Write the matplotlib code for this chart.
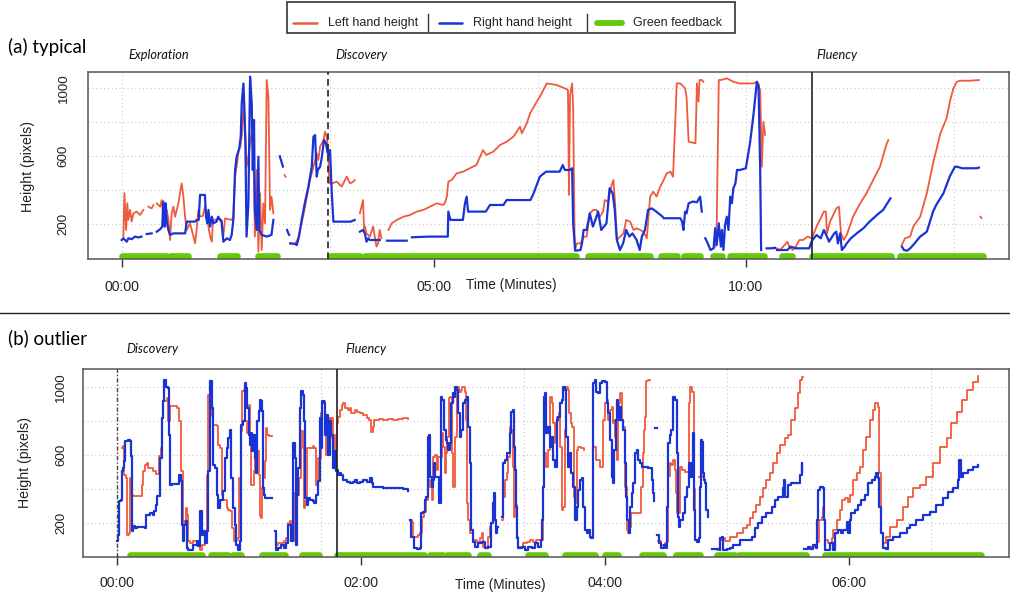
import numpy as np
import matplotlib
matplotlib.use("Agg")
import matplotlib.pyplot as plt
from matplotlib.lines import Line2D
from matplotlib.patches import Rectangle

# ---------------- data (time in seconds, height in pixels; None = gap) ----------------
a_left = [(1.6,128),(2.6,383),(4.2,167),(5.4,324),(6.4,226),(8,285),(9.6,216),(11.2,265),(14.4,275),(17.6,255),(20.8,285),None,
          (25.6,304),(28.8,294),(30.4,314),None,(33.7,324),(36.9,304),(38.5,343),(40,245),(41.7,187),(43.3,285),(44.9,226),
          (46.5,108),(48,265),(49.7,304),(51.3,245),(54.5,324),(56,383),(57.7,441),(59.3,363),(60.9,245),(62.5,167),(65.7,206),
          (69,128),(70.5,89),(72,167),(73.7,285),(75.3,245),(78,250),(80,304),(81.6,265),(83.4,187),(85,128),(86.7,98),(87.7,226),
          (89.7,226),(93,235),(96,226),(97.7,128),(99.3,235),(105.7,226),(107.3,245),(109,480),(110.9,559),(112.5,637),(114,657),
          (115.7,735),(117.3,912),(119,716),(120,539),(121.8,600),(123.4,677),(125,735),(126.6,637),(128,128),(129.8,520),(131.4,40),
          (133,383),(134.6,49),(136.2,324),(137.8,206),(139.4,1049),(141,951),(142.6,285),(144,363),(145.8,265),None,
          (156.5,490),(157.5,480),None,
          (162,88),(166.6,85),(169.6,118),(171.5,167),(175,265),(178,363),(181,461),(183.6,520),(185.9,578),(187.5,618),(189,578),
          (190.7,657),(193.9,696),(195.5,745),(197,716),(198.6,637),(199.5,441),(200.6,451),(202.2,441),(206.7,451),(211.5,422),
          (216.3,481),(219.5,441),(222.7,451),(224,461),None,
          (229,265),(232,343),(233,167),(233.7,187),(235.3,147),(238.5,128),(241.7,187),(244.9,69),(246.5,89),(248,167),(249.7,118),None,
          (256.4,167),(259.6,206),(264.4,226),(270.8,245),(277.2,255),(283.6,275),(290,285),(296.4,304),(302.8,324),(309,314),
          (310.6,324),(312.6,363),(314,451),(317.2,461),(322,500),(328,510),(334.6,530),(341,549),(347.3,637),(350.5,608),
          (357.3,628),(363.7,667),(370,686),(376.6,716),(383,775),(384.6,735),(389.4,794),(392.6,853),(399,922),(402,951),
          (408.6,1029),(418,1020),(426,1000),(429,990),(430,373),(431,960),(433,1029),(434,880),(435.5,49),(437.6,88),(441,88),
          (444.2,128),(447,128),(450,265),(453.3,285),(456.5,285),(459.7,245),(462.8,275),(464.4,343),(467.6,333),(471,432),
          (472.7,461),(474.3,324),(476,108),(479.2,128),(482.4,147),(485,226),(488.8,216),(492,167),(495.2,177),(498.4,167),
          (501.6,157),(504.8,118),(508,363),(511,392),(514.2,363),(517,412),(521,461),(524,500),(527.6,510),(530,480),(533.6,1029),
          (537,1029),(541.6,1000),(543,951),(545,686),(551.6,677),(553,1029),(554.5,922),(555.5,1049),(557.7,1049),(559.2,1039),None,
          (570.5,69),(572,196),(574,1049),(576,1049),(581.7,1059),(588,1039),(594,1029),(600,1029),(607.5,1029),(610.6,1039),
          (613.8,990),(615.4,539),(616.9,804),(618.6,726),None,
          (625,59),(630,59),(633,49),(640,98),(641.7,69),(645,49),(648,69),(651.5,108),(655,108),(659.4,128),(663.5,118),(668,187),
          (672,236),(675,275),(677,275),(678,147),(681,216),(684,255),(687,294),(689.5,304),(691.5,147),(694,108),(697,137),
          (703,245),(710,324),(716,383),(722.4,461),(729,539),(735,667),(737,696),None,
          (750,79),(753,118),(758,128),(761,187),(767.6,245),(774,383),(777,471),(780,559),(787,735),(793,824),(796.5,931),
          (799.6,1000),(802.8,1039),(806,1045),(815.6,1045),(824,1049),None,(825.5,245),(826.5,237)]

a_right = [(0,108),(1.6,118),(3.2,108),(4.8,98),(6.4,118),(9.6,113),(12.8,128),(16,123),(19,128),None,(24,143),(28.8,147),None,
           (33.7,157),(36.9,171),(39,187),(40,334),(41.3,187),(42.3,324),(43.3,216),(44.9,167),(46.5,138),(49.7,147),(61,147),
           (62.5,216),(70.5,216),(72,226),(74,226),(75.3,373),(80,373),(81,245),(82.3,206),(83.4,285),(85,187),(86.7,245),(88,206),
           (91.2,216),(92.8,245),(94.5,226),(96,216),(97.7,98),(101,118),(104,108),(105.7,138),(107.3,226),(109,520),(110.5,598),
           (113,647),(114.4,716),(115.4,912),(117,1029),(118,873),(119,637),(120,128),(121.8,324),(123.4,1069),(125,912),(126,520),
           (127.2,814),(128,285),(129.8,167),(131.4,598),(132.3,167),(134.6,138),(139.4,128),(144,138),(145.8,226),None,
           (152,600),(153.5,570),(155,540),None,(159,167),(160,150),(161,138),None,
           (162,88),(166.6,85),(168.3,78),(169.6,108),(170.4,128),(173,226),(176,324),(179.5,422),(182.7,539),(184.3,716),
           (185.9,725),(187.5,481),(188.5,520),(190.7,539),(192.2,588),(194.5,696),(196.4,677),(198,618),(199.5,608),(200.3,637),
           (201.8,402),(203.5,216),(205,216),(220,216),(224,226),None,
           (229,157),(232,167),(233.7,147),(235.3,98),(237,118),(238.5,108),(248,108),None,(255,104),(274,104),None,
           (279,124),(296,128),(312,128),(313.5,128),(314,275),(316,226),(328,226),(330,324),(331.6,363),(333,275),(335,275),
           (350,275),(354,314),(367,314),(370,343),(393,343),(396,383),(402,481),(408,510),(421,510),(424,549),(426,520),(431,520),
           (433,530),(434,206),(436,45),(441,49),(442.5,88),(444,167),(447,167),(450,265),(453,187),(456.4,245),(458,275),(461,167),
           (466,206),(469,412),(472,383),(474,285),(476,108),(479,49),(482,88),(485,167),(488,128),(491,147),(495,108),(498,49),
           (500,128),(503,167),(506,285),(509.5,294),(514,275),(520,245),(521,236),(524,236),(537,236),(538.7,216),(540,167),
           (541.6,275),(543,265),(545,324),(549,334),(553,330),(556,363),(557.7,275),None,
           (561,118),(562.7,98),(566,49),(569,59),(570.5,177),(572,78),(574,206),(576,69),(577,167),(578.5,49),(580,196),
           (581.7,245),(583.3,167),(585,363),(586.6,324),(588,412),(590,441),(591.5,520),(594.6,520),(600,530),(604,677),
           (607.5,853),(610.6,1039),(612.2,1020),(613.8,520),(614.7,49),None,(620,59),(624,59),(628,62),None,
           (630,49),(640,49),(643,69),(648,59),(655,59),(661,59),(662.5,88),(664,108),(668,137),(672,118),(675,167),(678,128),
           (680,98),(685,147),(687,157),(688.5,88),(690.7,147),(692.3,49),(695,69),(697,88),(701,118),(706.6,147),(713,177),
           (719,216),(726,255),(732,285),(739,353),None,
           (750,69),(752,49),(755,45),(758,59),(761,79),(767.6,128),(774,157),(780,275),(783,314),(790,383),(796,481),(801,539),
           (803,539),(808,530),(822,530),(824,534)]

a_green = [(0,43),(46,64),(94.5,111),(131,149),(200,229),(234,437),(448,508),(518,534),(541,556),(568,577),(585,617),
           (634.6,644.5),(664,740),(748,828)]

b_left = [(2.2,643),(3,653),(3.5,486),(4.3,467),(4.9,134),(5.6,143),(6.2,467),(7,369),(7.9,359),(11.1,359),(12,428),(12.5,506),
          (13.6,545),(14.4,555),(15.3,526),(17.7,506),(19.3,490),(20.1,490),(20.5,594),(21.5,643),(22,820),(22.6,918),(24.3,937),
          (25.1,800),(25.9,888),(29.5,878),(30.5,800),(31.2,506),(32.2,192),(33,212),(33.8,290),(34.4,251),(34.9,94),(35.8,85),
          (37.4,94),(39,75),(40.7,45),(41.5,75),(43.1,94),(44,486),(44.8,957),(45.6,976),(46.4,829),(47.2,780),(48.9,771),
          (49.7,663),(50.5,643),(51.3,369),(52.1,339),(53.8,290),(54.6,281),(55.4,271),(56.4,173),(57.4,94),(58.5,104),(59.4,114),
          (59.9,467),(60.7,741),(61.3,976),(62.3,986),(63,800),(64,731),(64.6,898),(65.3,722),(65.9,428),(66.8,428),(67.3,506),
          (67.9,702),(68.9,624),(69.5,486),(70,241),(70.8,232),(71.3,408),(71.7,467),(72.5,565),(73,761),(73.8,722),(74.4,712),
          (76.1,712),None,
          (77.9,75),(79,85),(80.6,85),(82,94),(82.8,114),(84,202),(84.9,212),(85.4,94),(86.9,379),(88,369),(89.2,467),(90.2,741),
          (91.2,643),(91.8,290),(92.4,330),(93.5,643),(96.2,653),(97,643),(97.9,428),(98.7,584),(100,849),(100.8,918),(101.6,918),
          (102.3,839),(102.8,604),(103.6,820),(104.4,702),(105.3,820),(106.1,722),(106.9,545),(107.7,624),(108,788),(108.6,828),
          (109.5,867),(110.3,896),(111,906),(111.8,877),(113.4,867),(114.3,877),(115.2,847),(116.9,867),(117.7,857),(119.3,847),
          (121,837),(122.6,818),(123.9,808),(124.6,779),(125,739),(125.6,769),(126.2,808),(128.6,812),(130.8,808),(133,812),
          (135.7,808),(138.2,816),(140.7,818),(143.1,816),None,
          (144,220),(144.8,210),(145.6,122),(146.9,122),(148,132),(148.9,141),(149.7,239),(150.8,267),(152.1,339),(153,455),
          (153.8,416),(154.6,339),(155.1,416),(155.4,592),(156.2,602),(157.1,514),(158,592),(159.5,730),(160.3,651),(161.1,494),
          (161.6,612),(162.3,710),(163,935),(163.6,945),(164.4,612),(165.2,416),(166,710),(166.9,1004),(168.2,975),(168.9,984),
          (169.8,1004),(171,975),(171.5,808),(171.8,318),(172.6,220),(173.4,141),(175,102),(176.7,92),(178.4,112),(179.2,141),
          (180,63),(181.6,53),(182.5,122),(183.3,180),None,
          (189,220),(189.8,357),(190.6,455),(191.5,494),(192.3,592),(193.1,769),(193.9,749),(194.8,534),(195.2,239),(195.7,310),
          (196.4,122),(197.2,63),(199.7,82),(201.3,92),(203,102),(204.6,92),(206.2,102),(207.9,102),(209.2,416),(209.8,612),
          (210.8,534),(212,632),(212.8,945),(213.6,906),(214.4,788),(215.2,671),(215.7,788),(216.4,828),(217.4,847),(217.7,651),
          (218.5,279),(219.3,298),(220.1,749),(220.9,1004),(221.8,984),(222.3,847),(223,788),(223.9,769),(224.6,357),(225.1,318),
          (225.9,377),(226.2,632),(226.7,651),(227.9,641),(229.2,641),(229.6,632),None,
          (234.1,651),(235.7,573),(237.4,534),(239,808),(239.8,906),(240.7,926),(241.5,808),(242.3,867),(243.1,886),(243.6,788),
          (244.3,808),(245,710),(245.6,573),(246.1,808),(246.8,906),(247.5,965),(248.2,808),(248.9,769),(249.7,416),(250.5,161),
          (251.3,141),(252.1,180),(252.9,259),(253.8,259),(255.4,259),(257,259),(257.7,416),(258.4,612),(258.9,749),(259.4,828),
          (260.3,1039),(261.1,1043),(262.2,1043),None,
          (266,94),(267.5,75),(269.4,84),(270.5,90),(271,480),(271.8,553),(272.6,543),(273.4,573),(274.3,514),(274.8,377),
          (275.1,259),(275.9,386),(276.4,259),(277,534),(278,514),(279.2,504),(280.8,504),(281.2,906),(281.6,1004),(282.5,975),
          (283.3,975),(283.6,400),(284.1,102),(285.2,92),None,(286,470),(287.5,480),None,
          (292.3,47),(294.8,43),(296.4,102),(297.2,112),(298.9,98),(301.3,122),(304.6,141),(307.9,171),(309.5,190),(311.1,229),
          (312.8,269),(314.4,308),(316,357),(317.7,406),(319.3,455),(321,494),(322.6,553),(324.3,612),(325.9,661),(328.3,700),
          (329.9,720),(331.6,808),(333.3,877),(334.9,965),(335.7,1043),(336.6,1059),(337.4,1059),None,
          (339.8,63),(342.3,63),(344.2,92),(345.2,220),(346.4,239),(347.2,298),(347.6,280),None,
          (348,102),(349.7,82),(351.3,112),(352.1,161),(353.8,220),(355.4,279),(356.7,337),(357.9,347),(359.5,327),(360.3,367),
          (361.9,455),(363.6,494),(365.2,534),(366.9,632),(368.5,710),(370.2,808),(371.8,867),(372.6,906),(373.8,906),
          (374.3,886),(374.8,494),(375.4,141),(376.7,82),(378,122),(380,180),(383.3,220),(386.6,298),(389,357),(391.5,406),
          (394.8,426),(398,475),(401.3,553),(404.6,651),(407.9,700),(410.3,788),(412.8,857),(415.3,926),(417.7,984),(421,1033),
          (423.4,1067)]

b_right = [(0,94),(0.5,134),(1,330),(1.6,339),(2.2,506),(2.7,526),(3.3,565),(3.8,683),(5.4,692),(6.2,686),(6.7,594),(7.1,467),
           (7.4,153),(7.9,183),(8.7,173),(9.5,177),(13.6,173),(14,251),(16.1,261),(17.7,251),(18.2,271),(19.3,310),(19.7,359),
           (21,369),(21.1,584),(21.8,604),(22.2,820),(22.6,918),(23,1045),(23.8,1000),(25,996),(25.6,722),(25.9,428),(26.8,434),
           (30,434),(30.5,486),(31.2,447),(31.7,192),(32.2,94),(33,192),(33.8,212),(34.4,55),(34.9,45),(37.4,75),(39,94),(39.8,65),
           (40.7,271),(41.5,134),(42.3,153),(43.1,85),(44,153),(44.8,506),(45.6,1035),(46.4,878),(47.2,545),(48,526),(48.9,369),
           (49.7,290),(50.5,339),(52.1,388),(53,584),(53.8,643),(54.6,702),(55.4,751),(56,467),(56.6,467),(57,290),(57.7,192),
           (58.5,75),(59.4,45),(60.2,94),(60.7,526),(61,780),(61.8,800),(62.6,1025),(63.5,996),(64,878),(64.6,722),(65.1,663),
           (65.6,731),(66.2,624),(66.8,722),(67.6,584),(68.4,496),(68.9,800),(69.5,859),(70,927),(70.8,918),(71.2,859),(71.7,408),
           (72.1,369),(72.8,349),(76.1,349),None,
           (77.4,153),(77.9,45),(79,55),(80.6,75),(82,55),(82.8,85),(84,192),(84.9,192),(85.3,94),(86.4,673),(87.2,663),(87.6,584),
           (88,75),(88.5,369),(89,526),(89.7,878),(90.5,976),(91.2,957),(91.8,800),(92.4,349),(93.1,310),(93.8,349),(95,339),
           (96.2,330),(97,320),(97.9,369),(98.7,447),(99.5,820),(100,643),(100.8,918),(101.6,908),(102.3,722),(102.8,839),
           (103.6,604),(104.4,800),(105.3,722),(106.1,526),(106.9,624),(107.7,506),(108,514),(108.6,486),(109.4,494),(110.2,486),
           (111.1,455),(112.8,445),(114.4,436),(116,445),(116.9,455),(117.7,436),(119.3,445),(121,455),(122.6,445),(124.3,465),
           (125.1,436),(125.9,416),(128.4,416),(130.8,406),(134,406),(137.4,410),(140.7,400),(143,392),None,
           (144,220),(144.5,122),(145.1,122),(145.9,53),(147.2,47),(148.9,53),(149.2,259),(150.2,267),(151.3,339),(152.1,357),
           (152.6,710),(153.3,720),(153.8,475),(154.6,416),(155.4,455),(155.9,553),(156.4,475),(158.4,318),(159,945),(159.8,926),
           (160.7,749),(161.7,690),(162.2,671),(162.8,632),(163.6,671),(164.1,906),(164.9,969),(165.4,945),(166,1004),(166.9,984),
           (167.7,847),(168.5,710),(169.3,749),(170.2,906),(171,926),(171.8,945),(172.6,769),(173.4,553),(173.9,161),(174.8,92),
           (176,63),(177.5,82),(179.2,92),(180.8,53),(182.4,63),(184,200),(184.9,318),(185.3,377),(185.7,220),(186.2,141),
           (186.6,180),(187.4,180),None,
           (189,240),(189.8,553),(190.6,573),(191.5,612),(193.1,730),(193.9,857),(194.8,867),(195.2,651),(195.6,514),(196.1,298),
           (196.7,112),(197.2,53),(198.9,63),(200.5,43),(202,63),(203.8,53),(205.4,82),(207,63),(208.2,102),(208.7,220),
           (209.2,416),(209.8,945),(210.5,965),(211.1,730),(212,769),(212.8,651),(213.6,710),(214.4,573),(215.2,534),(216.1,808),
           (216.9,828),(217.7,906),(218.5,926),(219.3,1004),(220.1,984),(220.9,710),(221.8,534),(222.6,612),(223.4,494),
           (224.3,416),(225.1,220),(225.9,298),(226.7,396),(227.5,455),(228.4,465),(229.2,298),(230,161),(230.8,141),(231.6,161),
           (232.5,122),(233.1,112),(233.8,220),(234.1,1024),(234.9,1043),(235.7,975),(236.5,965),(237.4,1024),(238.2,1039),
           (239.8,1033),(240.7,906),(241.5,847),(242.3,690),(243.1,475),(243.6,436),(244.3,632),(245.2,808),(245.9,926),
           (246.5,808),(247.2,886),(248,808),(248.9,749),(249.7,553),(250.2,357),(250.8,220),(251.5,141),(252.1,298),(253,377),
           (253.8,436),(254.6,612),(255.4,632),(256.2,573),(257,553),(257.9,534),(259.5,534),(261.1,524),(262.8,514),(263.2,455),
           (263.6,377),(264,330),None,(264.6,761),(265.4,761),None,
           (265.5,134),(266.7,85),(267.5,55),(268.8,75),(270,55),(270.2,298),(271,671),(271.8,720),(272.6,749),(273.4,945),
           (274.3,926),(275.1,690),(275.5,612),(275.9,239),(276.4,180),(277,220),(278.4,259),(279.2,357),(280,416),(281.3,553),
           (282,475),(282.6,534),(283.3,730),(283.7,279),(284.3,102),(285.2,92),(286.2,112),(286.6,416),(287.2,690),(287.7,680),
           (288.2,494),(288.7,455),(289.3,436),(289.8,279),(290.5,239),None,
           (292.3,47),(294.8,47),(296.4,43),(296.7,112),(297.2,122),(297.7,43),(299.7,47),(301.3,53),(303,73),(306.2,102),
           (309.5,102),(312,122),(313.6,171),(315.2,200),(316.9,239),(319.3,259),(321.8,298),(323.4,337),(325.1,357),(327.5,406),
           (327.9,455),(328.3,357),(329.9,426),(331.6,436),(334,436),(335.7,485),(336.6,553),(337,504),None,
           (338,47),(339.8,63),(340.7,47),(342.3,73),(343.9,53),(344.2,220),(344.7,396),(345.6,416),(346.9,406),(347.5,220),
           (348,43),(349.7,43),(350.8,82),(351.8,43),(353,141),(354.6,161),(356.2,141),(357,161),(358.7,210),(359.5,141),
           (360.3,220),(361.1,259),(362.8,279),(364.4,308),(366,337),(367.7,367),(369.3,436),(371,455),(372.6,475),(373.4,494),
           (374.2,465),(374.8,298),(375.4,141),(376.4,53),(378,47),(379.2,102),(381.6,122),(384.9,141),(388.2,171),(389.8,190),
           (393.1,220),(396.4,249),(399.7,269),(402.9,308),(406.2,347),(408.7,386),(411.1,406),(413.6,455),(414.1,573),
           (414.8,475),(416,494),(418.5,514),(421,534),(423.4,543)]

b_green = [(6.3,21.8),(23,32),(33,41.5),(46,54.5),(57,61),(71,82.5),(90.7,99.4),(108,151),(154,160),(162,172.5),
           (178.4,182.3),(202,210.4),(220,235),(240,246.3),(258,268.4),(275,286.6),(295,304),(306,339),(348,425)]

a_phases = [("Exploration", 6.3), ("Discovery", 205.0), ("Fluency", 667.6)]
a_phase_lines = [(198.6, "dash"), (664.0, "solid")]
b_phases = [("Discovery", 4.3), ("Fluency", 112.0)]
b_phase_lines = [(0.0, "dashdot"), (108.0, "solid")]

a_xticks = [0, 300, 600]
a_xticklabels = ["00:00", "05:00", "10:00"]
b_xticks = [0, 120, 240, 360]
b_xticklabels = ["00:00", "02:00", "04:00", "06:00"]
yticks = [200, 600, 1000]
ygrid = [200, 400, 600, 800, 1000]
a_xgrid = [0, 200, 400, 600, 800]
b_xgrid = [0, 100, 200, 300, 400]

legend_labels = ["Left hand height", "Right hand height", "Green feedback"]

# ---------------- styling ----------------
RED = "#F05A3C"
BLUE = "#1A33D4"
GREEN = "#66C80A"
plt.rcParams["font.family"] = ["Liberation Sans", "DejaVu Sans"]

W, H = 1010, 593
fig = plt.figure(figsize=(W / 100, H / 100), dpi=100)
fig.patch.set_facecolor("white")


def fx(x):
    return x / W


def fy(y):
    return 1 - y / H


def to_xy(pts):
    t = np.array([np.nan if p is None else p[0] for p in pts], dtype=float)
    h = np.array([np.nan if p is None else p[1] for p in pts], dtype=float)
    return t, h


def draw_panel(ax, left, right, green, phase_lines, xgrid, xticks, xticklabels, xlim, ylim, ypad, xpad, dstyle):
    ax.set_xlim(*xlim)
    ax.set_ylim(*ylim)
    for g in ygrid:
        ax.axhline(g, color="#C8C8C8", lw=0.8, ls=(0, (1, 2.5)), zorder=0)
    for g in xgrid:
        ax.axvline(g, color="#C8C8C8", lw=0.8, ls=(0, (1, 2.5)), zorder=0)
    for s, e in green:
        ax.plot([s, e], [12, 12], color=GREEN, lw=4.8, solid_capstyle="round", zorder=2)
    t, h = to_xy(left)
    ax.plot(t, h, color=RED, lw=1.3, drawstyle=dstyle, zorder=3)
    t, h = to_xy(right)
    ax.plot(t, h, color=BLUE, lw=1.6, drawstyle=dstyle, zorder=4)
    for x, kind in phase_lines:
        if kind == "dash":
            ax.axvline(x, color="#222222", lw=1.2, ls=(0, (4, 2.5)), zorder=5)
        elif kind == "dashdot":
            ax.axvline(x, color="#444444", lw=1.0, ls=(0, (3, 1.5, 1, 1.5)), zorder=5)
        else:
            ax.axvline(x, color="#222222", lw=1.2, zorder=5)
    ax.set_yticks(yticks)
    ax.set_yticklabels([str(v) for v in yticks], rotation=90, va="center", fontsize=9.6, color="#222222")
    ax.tick_params(axis="y", length=0, pad=ypad)
    ax.set_xticks(xticks)
    ax.set_xticklabels(xticklabels, fontsize=10.2, color="#222222")
    ax.tick_params(axis="x", length=6, width=1.0, color="#333333", pad=xpad, direction="out")
    for sp in ax.spines.values():
        sp.set_color("#555555")
        sp.set_linewidth(1.1)


ax_a = fig.add_axes([fx(87.7), fy(258.7), fx(1009 - 87.7), (258.7 - 71.7) / H])
draw_panel(ax_a, a_left, a_right, a_green, a_phase_lines, a_xgrid, a_xticks, a_xticklabels,
           (-32.7, 853), (-2, 1098), 13.0, 9.5, "default")
ax_b = fig.add_axes([fx(83.3), fy(556.7), fx(1009 - 83.3), (556.7 - 369.3) / H])
draw_panel(ax_b, b_left, b_right, b_green, b_phase_lines, b_xgrid, b_xticks, b_xticklabels,
           (-16.7, 438.6), (4, 1106), 11.5, 8.2, "steps-post")

# phase names
for name, t in a_phases:
    ax_a.text(t, 1.089, name, transform=ax_a.get_xaxis_transform(), ha="left", va="center",
              fontsize=9.2, style="italic", family=["Lato", "DejaVu Sans"], color="#111111")
for name, t in b_phases:
    ax_b.text(t, 1.106, name, transform=ax_b.get_xaxis_transform(), ha="left", va="center",
              fontsize=9.2, style="italic", family=["Lato", "DejaVu Sans"], color="#111111")

# panel titles and axis labels
fig.text(fx(8), fy(46.7), "(a) typical", ha="left", va="center", fontsize=13.5, family=["Lato", "DejaVu Sans"])
fig.text(fx(8), fy(338.3), "(b) outlier", ha="left", va="center", fontsize=13.5, family=["Lato", "DejaVu Sans"])
fig.text(fx(28), fy(166.7), "Height (pixels)", rotation=90, ha="center", va="center", fontsize=10.2, color="#222222")
fig.text(fx(25), fy(463), "Height (pixels)", rotation=90, ha="center", va="center", fontsize=10.2, color="#222222")
fig.text(fx(511.7), fy(285.5), "Time (Minutes)", ha="center", va="center", fontsize=9.8, color="#222222")
fig.text(fx(500), fy(584.5), "Time (Minutes)", ha="center", va="center", fontsize=9.8, color="#222222")

# separator between panels
fig.add_artist(Line2D([0, 1], [fy(313), fy(313)], color="#222222", lw=1.0))

# legend (manual, R-style single row)
fig.add_artist(Rectangle((fx(287.3), fy(33.3)), fx(735 - 287.3), (33.3 - 1.7) / H, fill=False,
                         edgecolor="#333333", lw=1.2))
ly = fy(22.7)
entries = [(293, 317, RED, 1.8, 328), (439, 462, BLUE, 1.8, 472.7), (597, 622, GREEN, 4.2, 632.7)]
for (x0, x1, c, lw, tx), lab in zip(entries, legend_labels):
    fig.add_artist(Line2D([fx(x0), fx(x1)], [ly, ly], color=c, lw=lw, solid_capstyle="round"))
    fig.text(fx(tx), ly, lab, ha="left", va="center", fontsize=9.0, color="#222222")
for sx in (427.7, 587):
    fig.add_artist(Line2D([fx(sx), fx(sx)], [fy(14), fy(31)], color="#333333", lw=1.0))

fig.savefig("out.png", dpi=100, facecolor="white")
